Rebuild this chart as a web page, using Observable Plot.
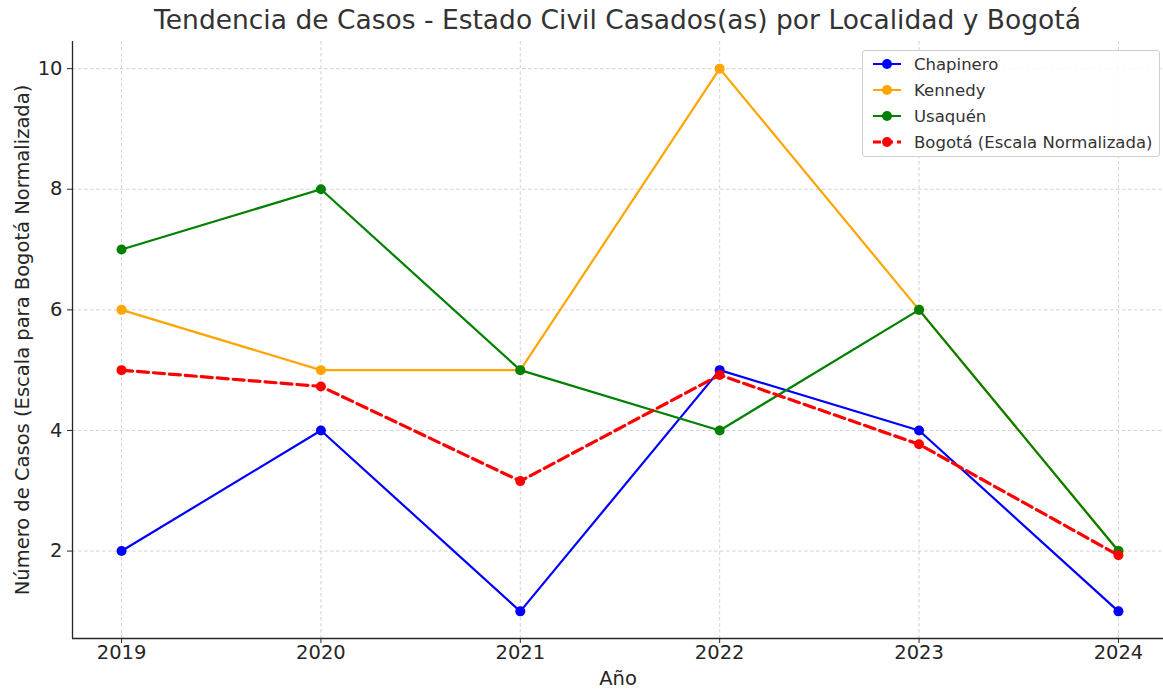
<!DOCTYPE html>
<html>
<head>
<meta charset="utf-8">
<script src="https://cdn.jsdelivr.net/npm/d3@7"></script>
<script src="https://cdn.jsdelivr.net/npm/@observablehq/plot@0.6"></script>
<style>
  html, body { margin: 0; padding: 0; background: #fff; }
  #wrap { position: relative; width: 1163px; height: 690px; font-family: "DejaVu Sans", sans-serif; color: #262626; }
  #title { position: absolute; left: 72px; width: 1091px; top: 4px; text-align: center; font-size: 26.5px; color: #333; white-space: nowrap; }
  #legend { position: absolute; left: 862px; top: 50px; width: 298px; height: 107px; border: 1px solid #d0d0d0; border-radius: 3px; background: rgba(255,255,255,0.85); font-size: 16.5px; color: #333; box-sizing: border-box; padding-top: 0px; }
  .row { display: flex; align-items: center; height: 26px; }
  .row svg { margin-left: 9px; margin-right: 12px; }
</style>
</head>
<body>
<div id="wrap">
  <div id="title"></div>
  <div id="legend"></div>
</div>
<script>
const years = [2019, 2020, 2021, 2022, 2023, 2024];
const chapinero = [2, 4, 1, 5, 4, 1];
const kennedy = [6, 5, 5, 10, 6, 2];
const usaquen = [7, 8, 5, 4, 6, 2];
const bogota = [5.0, 4.73, 3.16, 4.92, 3.77, 1.93];
const seriesNames = ["Chapinero", "Kennedy", "Usaquén", "Bogotá (Escala Normalizada)"];
const seriesColors = ["#0000ff", "#ffa500", "#008000", "#ff0000"];
const yTicks = [2, 4, 6, 8, 10];
const xDomain = [2018.754, 2024.226];
const yDomain = [0.55, 10.45];
const titleText = "Tendencia de Casos - Estado Civil Casados(as) por Localidad y Bogotá";
const xLabel = "Año";
const yLabel = "Número de Casos (Escala para Bogotá Normalizada)";

const seriesValues = [chapinero, kennedy, usaquen, bogota];
const data = [];
seriesValues.forEach((vals, i) => vals.forEach((v, j) => data.push({year: years[j], value: v, series: seriesNames[i]})));
const bySeries = name => data.filter(d => d.series === name);

const marks = [
  Plot.gridY(yTicks, {stroke: "#b0b0b0", strokeOpacity: 0.7, strokeDasharray: "3.5,2.5", strokeWidth: 0.8}),
  Plot.gridX(years, {stroke: "#b0b0b0", strokeOpacity: 0.7, strokeDasharray: "3.5,2.5", strokeWidth: 0.8}),
  Plot.ruleX([xDomain[0]], {stroke: "#262626", strokeWidth: 1.3}),
  Plot.ruleY([yDomain[0]], {stroke: "#262626", strokeWidth: 1.3}),
  Plot.axisY(yTicks, {tickSize: 5, tickPadding: 5, fontSize: 19.5, fill: "#262626", label: null, tickFormat: d => String(d)}),
  Plot.axisX(years, {tickSize: 5, tickPadding: 2, fontSize: 19.5, fill: "#262626", label: null, tickFormat: d => String(d)}),
  Plot.text([yLabel], {frameAnchor: "left", textAnchor: "middle", dx: -50, rotate: -90, fontSize: 19.5, fill: "#262626", text: d => d}),
  Plot.text([xLabel], {frameAnchor: "bottom", dy: 46, fontSize: 19.5, fill: "#262626", text: d => d}),
];
seriesNames.forEach((name, i) => {
  const dashed = i === 3;
  marks.push(Plot.line(bySeries(name), {x: "year", y: "value", stroke: seriesColors[i], strokeWidth: dashed ? 3.2 : 2.2, strokeDasharray: dashed ? "11,5" : null}));
  marks.push(Plot.dot(bySeries(name), {x: "year", y: "value", fill: seriesColors[i], r: 5}));
});

const chart = Plot.plot({
  width: 1163,
  height: 690,
  marginTop: 41,
  marginBottom: 52,
  marginLeft: 72,
  marginRight: 0,
  x: {domain: xDomain},
  y: {domain: yDomain},
  style: {fontFamily: "DejaVu Sans, sans-serif", background: "white", overflow: "visible"},
  marks
});
document.getElementById("wrap").prepend(chart);
document.getElementById("title").textContent = titleText;

const legend = document.getElementById("legend");
seriesNames.forEach((name, i) => {
  const row = document.createElement("div");
  row.className = "row";
  const dashed = i === 3;
  row.innerHTML = `<svg width="30" height="12"><line x1="1" x2="29" y1="6" y2="6" stroke="${seriesColors[i]}" stroke-width="${dashed ? 3 : 2}" ${dashed ? 'stroke-dasharray="8,4"' : ''}/><circle cx="15" cy="6" r="5" fill="${seriesColors[i]}"/></svg><span></span>`;
  row.querySelector("span").textContent = name;
  legend.appendChild(row);
});
</script>
</body>
</html>
